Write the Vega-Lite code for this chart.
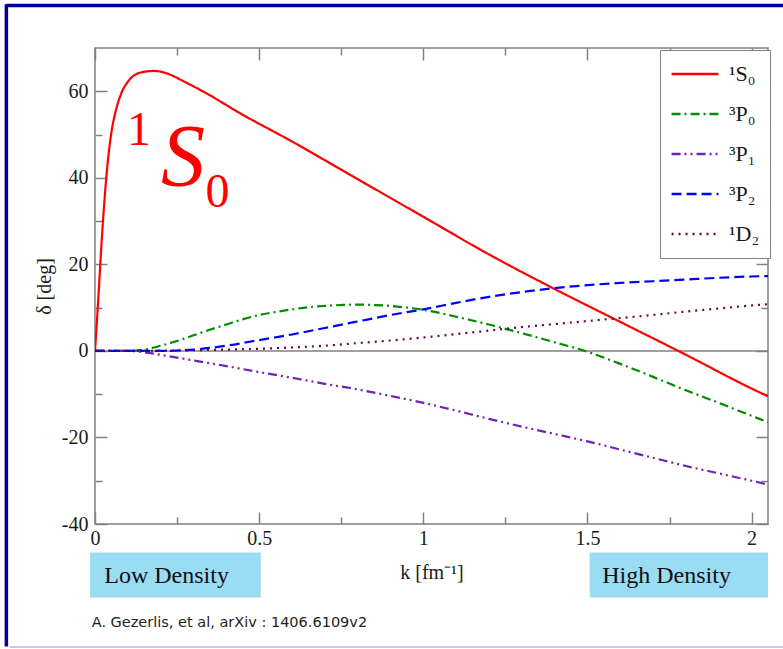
{
  "$schema": "https://vega.github.io/schema/vega-lite/v6.json",
  "width": 673,
  "height": 476,
  "autosize": {"type": "none"},
  "padding": {"left": 95, "top": 48, "right": 15, "bottom": 125},
  "background": "white",
  "config": {
    "view": {"stroke": "#808080", "strokeWidth": 1.5},
    "axis": {"domain": false, "grid": false, "labelFlush": false, "tickColor": "#808080", "tickWidth": 1.5, "labelFont": "Liberation Serif", "labelFontSize": 20, "labelColor": "#1a1a1a", "titleFont": "Liberation Serif", "titleFontSize": 20, "titleFontWeight": "normal", "titleColor": "#1a1a1a"}
  },
  "resolve": {"axis": {"x": "independent", "y": "independent"}},
  "layer": [
    {
      "data": {"values": [
        {"x1": -0.015, "x2": 0.505, "y1": -46.6, "y2": -57.0},
        {"x1": 1.507, "x2": 2.05, "y1": -46.6, "y2": -57.0}
      ]},
      "mark": {"type": "rect", "color": "#9ADCF4", "clip": false},
      "encoding": {
        "x": {"field": "x1", "type": "quantitative", "axis": null},
        "x2": {"field": "x2"},
        "y": {"field": "y1", "type": "quantitative", "axis": null},
        "y2": {"field": "y2"}
      }
    },
    {
      "data": {"values": [{"d": 0}]},
      "mark": {"type": "rule", "color": "#808080", "strokeWidth": 1.5},
      "encoding": {"y": {"field": "d", "type": "quantitative", "axis": null}}
    },
    {
      "data": {"values": [
        {"w": "¹S₀", "k": 0, "d": 0}, {"w": "¹S₀", "k": 0.01, "d": 12}, {"w": "¹S₀", "k": 0.02, "d": 25}, {"w": "¹S₀", "k": 0.03, "d": 36}, {"w": "¹S₀", "k": 0.04, "d": 44.5}, {"w": "¹S₀", "k": 0.05, "d": 50.5}, {"w": "¹S₀", "k": 0.065, "d": 56}, {"w": "¹S₀", "k": 0.08, "d": 59.5}, {"w": "¹S₀", "k": 0.1, "d": 62.2}, {"w": "¹S₀", "k": 0.12, "d": 63.7}, {"w": "¹S₀", "k": 0.15, "d": 64.5}, {"w": "¹S₀", "k": 0.18, "d": 64.7}, {"w": "¹S₀", "k": 0.22, "d": 64.1}, {"w": "¹S₀", "k": 0.27, "d": 62.3}, {"w": "¹S₀", "k": 0.34, "d": 59.5}, {"w": "¹S₀", "k": 0.44, "d": 55}, {"w": "¹S₀", "k": 0.6, "d": 48.4}, {"w": "¹S₀", "k": 0.8, "d": 39.7}, {"w": "¹S₀", "k": 1.0, "d": 31}, {"w": "¹S₀", "k": 1.2, "d": 22.3}, {"w": "¹S₀", "k": 1.4, "d": 14.3}, {"w": "¹S₀", "k": 1.6, "d": 6.7}, {"w": "¹S₀", "k": 1.8, "d": -0.9}, {"w": "¹S₀", "k": 2.0, "d": -8.7}, {"w": "¹S₀", "k": 2.05, "d": -10.5},
        {"w": "³P₀", "k": 0, "d": 0}, {"w": "³P₀", "k": 0.1, "d": 0}, {"w": "³P₀", "k": 0.15, "d": 0.3}, {"w": "³P₀", "k": 0.2, "d": 1.2}, {"w": "³P₀", "k": 0.25, "d": 2.3}, {"w": "³P₀", "k": 0.3, "d": 3.6}, {"w": "³P₀", "k": 0.35, "d": 4.9}, {"w": "³P₀", "k": 0.4, "d": 6.1}, {"w": "³P₀", "k": 0.45, "d": 7.3}, {"w": "³P₀", "k": 0.5, "d": 8.3}, {"w": "³P₀", "k": 0.55, "d": 9.0}, {"w": "³P₀", "k": 0.6, "d": 9.6}, {"w": "³P₀", "k": 0.65, "d": 10.1}, {"w": "³P₀", "k": 0.7, "d": 10.4}, {"w": "³P₀", "k": 0.75, "d": 10.6}, {"w": "³P₀", "k": 0.8, "d": 10.7}, {"w": "³P₀", "k": 0.85, "d": 10.6}, {"w": "³P₀", "k": 0.9, "d": 10.4}, {"w": "³P₀", "k": 0.95, "d": 10.0}, {"w": "³P₀", "k": 1.0, "d": 9.5}, {"w": "³P₀", "k": 1.1, "d": 7.9}, {"w": "³P₀", "k": 1.2, "d": 6.1}, {"w": "³P₀", "k": 1.3, "d": 4.1}, {"w": "³P₀", "k": 1.4, "d": 2.0}, {"w": "³P₀", "k": 1.5, "d": -0.2}, {"w": "³P₀", "k": 1.6, "d": -3.0}, {"w": "³P₀", "k": 1.7, "d": -6.0}, {"w": "³P₀", "k": 1.8, "d": -9.1}, {"w": "³P₀", "k": 1.9, "d": -12.0}, {"w": "³P₀", "k": 2.0, "d": -15.0}, {"w": "³P₀", "k": 2.05, "d": -16.5},
        {"w": "³P₁", "k": 0, "d": 0}, {"w": "³P₁", "k": 0.1, "d": 0}, {"w": "³P₁", "k": 0.15, "d": -0.3}, {"w": "³P₁", "k": 0.2, "d": -0.9}, {"w": "³P₁", "k": 0.3, "d": -2.2}, {"w": "³P₁", "k": 0.4, "d": -3.5}, {"w": "³P₁", "k": 0.5, "d": -4.9}, {"w": "³P₁", "k": 0.6, "d": -6.2}, {"w": "³P₁", "k": 0.7, "d": -7.6}, {"w": "³P₁", "k": 0.8, "d": -8.9}, {"w": "³P₁", "k": 0.9, "d": -10.4}, {"w": "³P₁", "k": 1.0, "d": -12.0}, {"w": "³P₁", "k": 1.1, "d": -13.8}, {"w": "³P₁", "k": 1.2, "d": -15.7}, {"w": "³P₁", "k": 1.3, "d": -17.5}, {"w": "³P₁", "k": 1.4, "d": -19.2}, {"w": "³P₁", "k": 1.5, "d": -20.9}, {"w": "³P₁", "k": 1.6, "d": -22.8}, {"w": "³P₁", "k": 1.7, "d": -24.7}, {"w": "³P₁", "k": 1.8, "d": -26.6}, {"w": "³P₁", "k": 1.9, "d": -28.3}, {"w": "³P₁", "k": 2.0, "d": -30.0}, {"w": "³P₁", "k": 2.05, "d": -30.9},
        {"w": "³P₂", "k": 0, "d": 0}, {"w": "³P₂", "k": 0.2, "d": 0}, {"w": "³P₂", "k": 0.3, "d": 0.3}, {"w": "³P₂", "k": 0.4, "d": 1.2}, {"w": "³P₂", "k": 0.5, "d": 2.5}, {"w": "³P₂", "k": 0.6, "d": 3.8}, {"w": "³P₂", "k": 0.7, "d": 5.3}, {"w": "³P₂", "k": 0.8, "d": 6.8}, {"w": "³P₂", "k": 0.9, "d": 8.3}, {"w": "³P₂", "k": 1.0, "d": 9.6}, {"w": "³P₂", "k": 1.1, "d": 11.1}, {"w": "³P₂", "k": 1.2, "d": 12.5}, {"w": "³P₂", "k": 1.3, "d": 13.6}, {"w": "³P₂", "k": 1.4, "d": 14.5}, {"w": "³P₂", "k": 1.5, "d": 15.2}, {"w": "³P₂", "k": 1.6, "d": 15.7}, {"w": "³P₂", "k": 1.7, "d": 16.1}, {"w": "³P₂", "k": 1.8, "d": 16.5}, {"w": "³P₂", "k": 1.9, "d": 16.9}, {"w": "³P₂", "k": 2.0, "d": 17.2}, {"w": "³P₂", "k": 2.05, "d": 17.3},
        {"w": "¹D₂", "k": 0, "d": 0}, {"w": "¹D₂", "k": 0.2, "d": 0.05}, {"w": "¹D₂", "k": 0.3, "d": 0.15}, {"w": "¹D₂", "k": 0.4, "d": 0.3}, {"w": "¹D₂", "k": 0.5, "d": 0.5}, {"w": "¹D₂", "k": 0.6, "d": 0.8}, {"w": "¹D₂", "k": 0.7, "d": 1.2}, {"w": "¹D₂", "k": 0.8, "d": 1.8}, {"w": "¹D₂", "k": 0.9, "d": 2.4}, {"w": "¹D₂", "k": 1.0, "d": 3.1}, {"w": "¹D₂", "k": 1.1, "d": 3.9}, {"w": "¹D₂", "k": 1.2, "d": 4.7}, {"w": "¹D₂", "k": 1.3, "d": 5.5}, {"w": "¹D₂", "k": 1.4, "d": 6.2}, {"w": "¹D₂", "k": 1.5, "d": 6.9}, {"w": "¹D₂", "k": 1.6, "d": 7.6}, {"w": "¹D₂", "k": 1.7, "d": 8.3}, {"w": "¹D₂", "k": 1.8, "d": 9.1}, {"w": "¹D₂", "k": 1.9, "d": 9.8}, {"w": "¹D₂", "k": 2.0, "d": 10.5}, {"w": "¹D₂", "k": 2.05, "d": 10.8}
      ]},
      "mark": {"type": "line", "strokeWidth": 2.2, "clip": true, "interpolate": "monotone"},
      "encoding": {
        "x": {"field": "k", "type": "quantitative", "title": "k [fm⁻¹]",
          "scale": {"domain": [0, 2.05], "nice": false, "zero": false},
          "axis": {"values": [0, 0.25, 0.5, 0.75, 1, 1.25, 1.5, 1.75, 2], "labelExpr": "datum.value % 0.5 === 0 ? '' + datum.value : ''",
            "tickSize": {"condition": {"test": "datum.value % 0.5 === 0", "value": -12}, "value": -7},
            "labelPadding": 16, "titlePadding": 14}},
        "y": {"field": "d", "type": "quantitative", "title": "δ [deg]",
          "scale": {"domain": [-40, 70], "nice": false, "zero": false},
          "axis": {"values": [-40, -30, -20, -10, 0, 10, 20, 30, 40, 50, 60], "labelExpr": "datum.value % 20 === 0 ? '' + datum.value : ''",
            "tickSize": {"condition": {"test": "datum.value % 20 === 0", "value": -12}, "value": -7},
            "labelPadding": 19, "titlePadding": 7}},
        "color": {"field": "w", "type": "nominal", "title": null,
          "scale": {"domain": ["¹S₀", "³P₀", "³P₁", "³P₂", "¹D₂"], "range": ["#ff0000", "#008b00", "#7221bc", "#0000ff", "#670748"]},
          "legend": {"orient": "none", "legendX": 565, "legendY": 2, "strokeColor": "#808080", "padding": 10, "symbolType": "stroke", "symbolSize": 2200, "symbolStrokeWidth": 2.5, "clipHeight": 28, "rowPadding": 12, "labelFont": "Liberation Serif", "labelFontSize": 22, "labelColor": "#1a1a1a", "labelOffset": 9, "fillColor": "white"}},
        "strokeDash": {"field": "w", "type": "nominal", "title": null,
          "scale": {"domain": ["¹S₀", "³P₀", "³P₁", "³P₂", "¹D₂"], "range": [[1, 0], [9, 4, 2, 4], [9, 4, 2, 4, 2, 4], [10, 5], [2, 5]]}}
      }
    },
    {
      "data": {"values": [{"k": 0, "d": 0}]},
      "mark": {"type": "point", "opacity": 0},
      "encoding": {
        "x": {"field": "k", "type": "quantitative", "title": null,
          "axis": {"orient": "top", "values": [0, 0.25, 0.5, 0.75, 1, 1.25, 1.5, 1.75, 2], "labels": false,
            "tickSize": {"condition": {"test": "datum.value % 0.5 === 0", "value": -12}, "value": -7}}},
        "y": {"field": "d", "type": "quantitative", "title": null,
          "axis": {"orient": "right", "values": [-40, -30, -20, -10, 0, 10, 20, 30, 40, 50, 60], "labels": false,
            "tickSize": {"condition": {"test": "datum.value % 20 === 0", "value": -12}, "value": -7}}}
      }
    },
    {
      "data": {"values": [{"k": 0.134, "d": 47.5, "t": "1"}, {"k": 0.373, "d": 33.3, "t": "0"}]},
      "mark": {"type": "text", "font": "Liberation Serif", "fontSize": 48, "color": "#ff0000", "align": "center", "baseline": "alphabetic"},
      "encoding": {
        "x": {"field": "k", "type": "quantitative", "axis": null},
        "y": {"field": "d", "type": "quantitative", "axis": null},
        "text": {"field": "t"}
      }
    },
    {
      "data": {"values": [{"k": 0.268, "d": 38.3, "t": "S"}]},
      "mark": {"type": "text", "font": "Liberation Serif", "fontSize": 88, "fontStyle": "italic", "color": "#ff0000", "align": "center", "baseline": "alphabetic"},
      "encoding": {
        "x": {"field": "k", "type": "quantitative", "axis": null},
        "y": {"field": "d", "type": "quantitative", "axis": null},
        "text": {"field": "t"}
      }
    },
    {
      "data": {"values": [{"k": 0.218, "d": -53.6, "t": "Low Density"}, {"k": 1.741, "d": -53.6, "t": "High Density"}]},
      "mark": {"type": "text", "font": "Liberation Serif", "fontSize": 24, "color": "#111111", "align": "center", "baseline": "alphabetic"},
      "encoding": {
        "x": {"field": "k", "type": "quantitative", "axis": null},
        "y": {"field": "d", "type": "quantitative", "axis": null},
        "text": {"field": "t"}
      }
    },
    {
      "data": {"values": [{"k": -0.01, "d": -63.9, "t": "A. Gezerlis, et al, arXiv : 1406.6109v2"}]},
      "mark": {"type": "text", "font": "DejaVu Sans", "fontSize": 14.5, "color": "#222222", "align": "left", "baseline": "alphabetic"},
      "encoding": {
        "x": {"field": "k", "type": "quantitative", "axis": null},
        "y": {"field": "d", "type": "quantitative", "axis": null},
        "text": {"field": "t"}
      }
    },
    {
      "data": {"values": [{"x1": -0.27, "x2": 2.1, "y1": 79.8, "y2": 79.8}, {"x1": -0.27, "x2": -0.27, "y1": 80.1, "y2": -68.3}]},
      "mark": {"type": "rule", "color": "#000099", "strokeWidth": 3.5, "clip": false},
      "encoding": {
        "x": {"field": "x1", "type": "quantitative", "axis": null},
        "x2": {"field": "x2"},
        "y": {"field": "y1", "type": "quantitative", "axis": null},
        "y2": {"field": "y2"}
      }
    },
    {
      "data": {"values": [{"x1": -0.26, "x2": 2.1, "y1": -68.4, "y2": -68.4}]},
      "mark": {"type": "rule", "color": "#c8c8f0", "strokeWidth": 2, "clip": false},
      "encoding": {
        "x": {"field": "x1", "type": "quantitative", "axis": null},
        "x2": {"field": "x2"},
        "y": {"field": "y1", "type": "quantitative", "axis": null},
        "y2": {"field": "y2"}
      }
    }
  ]
}
